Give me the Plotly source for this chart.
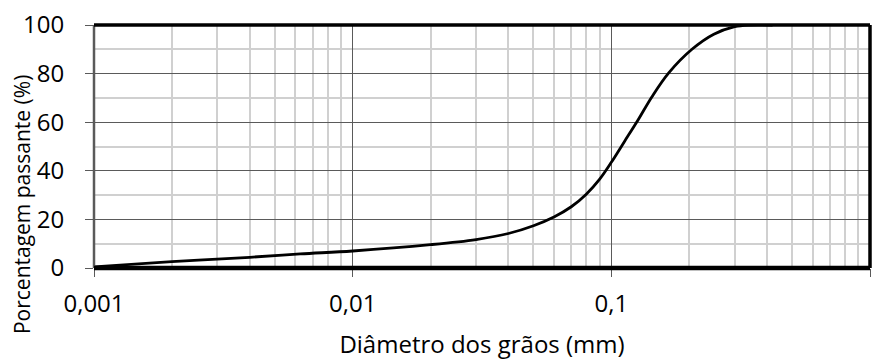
import plotly.graph_objects as go

# Grain-size distribution (passing percentage vs. grain diameter)
diametro_mm = [0.001, 0.002, 0.004, 0.00627, 0.01, 0.02, 0.03, 0.04, 0.05, 0.06,
               0.07, 0.08, 0.09, 0.1, 0.112, 0.127, 0.1436, 0.1667, 0.205, 0.249,
               0.3, 0.34, 0.42]
passante_pct = [0.5, 2.6, 4.4, 5.8, 7.0, 9.6, 11.7, 14.2, 17.4, 21.0,
                25.2, 30.4, 36.5, 43.5, 51.8, 61.0, 70.5, 80.3, 90.0, 96.2,
                99.3, 100.0, 100.0]

x_ticks = [0.001, 0.01, 0.1, 1]
x_tick_text = ["0,001", "0,01", "0,1", "1"]
y_ticks = [0, 20, 40, 60, 80, 100]

x_minor = [m * 10.0 ** e for e in (-3, -2, -1) for m in range(2, 10)]
y_minor = [10, 30, 50, 70, 90]

FONT = "Open Sans"
FS = 24
MAJOR = "#5a5a5a"
MINOR = "#d0d0d0"

fig = go.Figure()
fig.add_trace(go.Scatter(
    x=diametro_mm, y=passante_pct, mode="lines",
    line=dict(color="black", width=2.8, shape="spline", smoothing=1.0),
    hoverinfo="skip", showlegend=False,
))

fig.update_layout(
    width=874, height=360,
    margin=dict(l=94, r=4, t=25, b=92),
    paper_bgcolor="white", plot_bgcolor="white",
    font=dict(family=FONT, size=FS, color="black"),
    xaxis=dict(
        type="log", range=[-3, 0],
        tickvals=x_ticks, ticktext=x_tick_text,
        ticks="outside", ticklen=8, tickwidth=1.2, tickcolor=MAJOR,
        showgrid=True, gridcolor=MAJOR, gridwidth=1,
        minor=dict(tickvals=x_minor, showgrid=True, gridcolor=MINOR, gridwidth=1.5, ticks=""),
        zeroline=False, showline=False,
        tickfont=dict(family=FONT, size=FS),
        ticklabelstandoff=6,
        title=dict(text="Diâmetro dos grãos (mm)", font=dict(family=FONT, size=FS), standoff=20),
    ),
    yaxis=dict(
        range=[0, 100],
        tickvals=y_ticks,
        ticks="outside", ticklen=8, tickwidth=1.2, tickcolor=MAJOR,
        showgrid=True, gridcolor=MAJOR, gridwidth=1,
        minor=dict(tickvals=y_minor, showgrid=True, gridcolor=MINOR, gridwidth=1.5, ticks=""),
        zeroline=False, showline=False,
        tickfont=dict(family=FONT, size=FS),
        ticklabelstandoff=16,
    ),
)

# Vertical axis title, centred lower than the plot area
fig.add_annotation(
    text="Porcentagem passante (%)", textangle=-90, showarrow=False,
    xref="paper", yref="paper", x=0, y=0.259, xanchor="center", yanchor="middle",
    xshift=-72, font=dict(family=FONT, size=21, color="black"),
)

# Chart frame: heavy black top/right/bottom, dark grey left edge
frame = [
    dict(x0=0, x1=0, y0=0, y1=1, color=MAJOR, width=2.5),
    dict(x0=1, x1=1, y0=0, y1=1, color="black", width=3.5),
    dict(x0=0, x1=1, y0=1, y1=1, color="black", width=3.5),
    dict(x0=0, x1=1, y0=0, y1=0, color="black", width=4.5),
]
for f in frame:
    fig.add_shape(type="line", xref="paper", yref="paper",
                  x0=f["x0"], x1=f["x1"], y0=f["y0"], y1=f["y1"],
                  line=dict(color=f["color"], width=f["width"]), layer="above")

fig.write_html("out.html")
